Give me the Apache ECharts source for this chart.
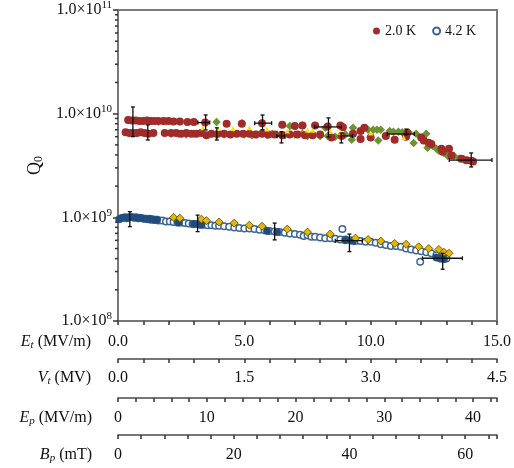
<!DOCTYPE html>
<html>
<head>
<meta charset="utf-8">
<script src="https://cdn.jsdelivr.net/npm/echarts@6/dist/echarts.min.js"></script>
<style>html,body{margin:0;padding:0;background:#fff;}#c{width:514px;height:468px;}</style>
</head>
<body>
<div id="c"></div>
<script>
// ---------- data (Et in MV/m, Q0) ----------
const red20 = [
  [0.40,8.7e9],[0.55,8.6e9],[0.70,8.6e9],[0.85,8.5e9],[1.00,8.5e9],[1.15,8.6e9],[1.30,8.5e9],[1.45,8.5e9],
  [1.60,8.5e9],[1.80,8.5e9],[2.00,8.5e9],[2.20,8.4e9],[2.45,8.4e9],[2.75,8.3e9],[3.00,8.3e9],[3.45,8.2e9],
  [4.30,8.0e9],[4.90,8.0e9],[5.70,8.1e9],[6.50,7.8e9],[7.00,7.6e9],[7.30,7.7e9],[7.80,7.7e9],[8.30,7.5e9],
  [8.80,7.7e9],[8.90,7.4e9],
  [0.30,6.6e9],[0.45,6.5e9],[0.60,6.5e9],[0.75,6.5e9],[0.90,6.6e9],[1.05,6.5e9],[1.20,6.4e9],[1.40,6.5e9],
  [1.85,6.5e9],[2.10,6.5e9],[2.30,6.5e9],[2.50,6.4e9],[2.70,6.5e9],[2.90,6.4e9],[3.10,6.4e9],[3.30,6.5e9],
  [3.50,6.2e9],[3.70,6.4e9],[3.95,6.4e9],[4.20,6.4e9],[4.45,6.3e9],[4.70,6.4e9],[4.95,6.4e9],[5.20,6.4e9],
  [5.45,6.3e9],[5.70,6.4e9],[5.95,6.3e9],[6.20,6.3e9],[6.50,6.2e9],[6.80,6.3e9],[7.10,6.3e9],[7.40,6.2e9],
  [7.70,6.2e9],[8.00,6.3e9],[8.45,5.9e9],[8.85,6.1e9],
  [9.30,6.4e9],[9.60,5.7e9],[9.60,6.8e9],[9.75,7.3e9],[10.00,5.9e9],[10.60,6.1e9],[10.95,5.6e9],[11.40,6.0e9],
  [11.45,6.5e9],[12.00,5.9e9],[12.10,5.5e9],[12.30,5.25e9],[12.40,5.1e9],[12.80,4.6e9],[12.85,4.3e9],
  [13.10,4.6e9],[13.20,3.95e9],[13.60,3.67e9],[13.80,3.55e9],[14.00,3.5e9],[14.05,3.45e9]
];
const green20 = [
  [1.60,8.4e9],[1.90,8.4e9],[2.10,6.4e9],[2.40,6.4e9],[2.70,6.3e9],[3.00,6.4e9],[3.90,8.3e9],[3.90,6.2e9],
  [4.20,6.3e9],[4.90,8.1e9],[5.00,6.3e9],[5.30,6.2e9],[5.50,6.3e9],[5.90,6.2e9],[6.10,6.4e9],[6.30,6.3e9],
  [6.60,6.2e9],[6.80,7.6e9],[7.00,6.3e9],[7.30,6.4e9],[7.30,7.7e9],[7.50,6.1e9],[8.00,6.1e9],[8.20,7.3e9],
  [8.30,6.1e9],[8.60,6.0e9],[9.00,6.3e9],[9.25,5.6e9],[9.30,7.3e9],[9.90,7.0e9],[10.10,7.0e9],[10.25,7.0e9],
  [10.40,7.0e9],[10.30,5.5e9],[10.75,6.8e9],[10.90,6.7e9],[11.10,6.7e9],[11.25,6.6e9],[11.50,6.6e9],
  [11.70,5.2e9],[11.80,6.4e9],[12.05,5.7e9],[12.20,6.4e9],[12.25,4.7e9],[12.45,4.9e9],[12.60,4.6e9],
  [12.70,4.4e9],[12.90,4.2e9],[13.05,3.9e9],[13.30,3.9e9],[13.50,3.7e9],[13.70,3.6e9]
];
const yellow20 = [
  [3.36,7.3e9],[3.95,7.2e9],[4.55,7.2e9],[5.20,7.3e9],[5.90,7.1e9],[6.70,6.8e9],[7.50,6.9e9],[7.70,6.9e9],
  [8.40,6.8e9],[8.80,6.6e9],[10.00,6.5e9],[11.30,5.9e9]
];
const open42 = [
  [1.30,9.5e8],[1.45,9.4e8],[1.60,9.3e8],[1.75,9.3e8],[1.90,9.1e8],[2.05,9.1e8],[2.20,9.0e8],[2.35,8.9e8],
  [2.50,8.9e8],[2.65,8.8e8],[2.80,8.7e8],[2.95,8.6e8],[3.10,8.6e8],[3.25,8.5e8],[3.40,8.5e8],[3.55,8.4e8],
  [3.70,8.4e8],[3.85,8.3e8],[4.00,8.3e8],[4.20,8.2e8],[4.40,8.1e8],[4.60,8.0e8],[4.80,7.9e8],[5.00,7.8e8],
  [5.20,7.8e8],[5.40,7.7e8],[5.60,7.6e8],[5.80,7.5e8],[6.00,7.4e8],[6.20,7.3e8],[6.40,7.2e8],[6.60,7.1e8],
  [6.80,7.0e8],[7.00,6.9e8],[7.20,6.8e8],[7.35,6.6e8],[7.50,6.7e8],[7.65,6.5e8],[7.80,6.5e8],[8.00,6.4e8],
  [8.20,6.3e8],[8.40,6.3e8],[8.60,6.2e8],[8.80,6.1e8],[8.88,7.7e8],[9.00,6.1e8],[9.20,6.0e8],[9.40,5.9e8],
  [9.60,5.9e8],[9.80,5.8e8],[10.00,5.8e8],[10.20,5.7e8],[10.40,5.5e8],[10.60,5.4e8],[10.80,5.3e8],
  [11.00,5.3e8],[11.20,5.2e8],[11.40,5.0e8],[11.60,4.9e8],[11.80,4.8e8],[12.00,4.7e8],[11.96,3.72e8],
  [12.20,4.6e8],[12.40,4.5e8],[12.60,4.3e8],[12.80,4.1e8],[13.00,4.0e8]
];
const filled42 = [
  [0.05,9.6e8],[0.12,9.8e8],[0.20,9.9e8],[0.28,1.0e9],[0.35,9.8e8],[0.42,1.0e9],[0.50,1.01e9],[0.58,1.0e9],
  [0.65,9.9e8],[0.72,1.0e9],[0.80,9.8e8],[0.88,9.9e8],[0.95,9.8e8],[1.02,9.7e8],[1.10,9.7e8],[1.18,9.6e8],
  [1.25,9.7e8],[1.35,9.6e8],[1.45,9.5e8],[1.55,9.5e8],[2.40,8.9e8],[3.00,8.6e8],[3.30,8.5e8],[5.90,7.4e8],
  [6.30,7.2e8],[9.00,6.0e8],[9.30,5.9e8],[12.60,4.1e8],[12.75,4.0e8],[12.90,3.95e8]
];
const gold42 = [
  [2.20,1.0e9],[2.45,9.8e8],[3.30,9.6e8],[3.50,9.3e8],[4.00,9.0e8],[4.60,8.8e8],[5.20,8.4e8],[5.70,8.2e8],
  [6.70,7.7e8],[7.50,7.2e8],[8.40,6.9e8],[9.40,6.3e8],[9.90,6.1e8],[10.40,5.9e8],[10.95,5.6e8],[11.40,5.5e8],
  [11.90,5.2e8],[12.30,5.0e8],[12.70,4.9e8],[12.90,4.6e8],[13.10,4.5e8]
];
// error bars: [Et, Q, EtLow, EtHigh, QLow, QHigh]
const err20 = [
  [0.59,8.6e9,0.59,0.59,6.0e9,1.16e10],
  [1.18,6.5e9,1.18,1.18,5.57e9,7.8e9],
  [3.47,8.2e9,3.16,3.63,6.96e9,9.72e9],
  [3.91,6.4e9,3.91,3.91,5.57e9,7.3e9],
  [5.72,8.1e9,5.41,6.08,7.0e9,9.7e9],
  [6.47,6.1e9,6.28,6.59,5.22e9,6.7e9],
  [8.33,7.45e9,7.78,8.84,5.96e9,9.1e9],
  [8.84,6.1e9,8.84,9.28,5.22e9,6.5e9],
  [11.41,6.37e9,10.66,11.73,6.24e9,7.1e9],
  [13.98,3.57e9,13.11,14.80,3.06e9,4.18e9]
];
const err42 = [
  [0.47,9.6e8,0.47,0.47,8.13e8,1.135e9],
  [3.15,8.8e8,3.15,3.15,7.28e8,1.05e9],
  [6.20,7.2e8,6.20,6.20,6.06e8,8.8e8],
  [9.16,5.96e8,8.60,9.67,4.67e8,6.9e8],
  [12.85,4.03e8,12.05,13.63,3.16e8,4.5e8]
];
const yMinorTicks = [2e8,3e8,4e8,5e8,6e8,7e8,8e8,9e8,2e9,3e9,4e9,5e9,6e9,7e9,8e9,9e9,
  2e10,3e10,4e10,5e10,6e10,7e10,8e10,9e10];
// axis ranges
const etRange = [0, 15], vtRange = [0, 4.5], epRange = [0, 42.7], bpRange = [0, 65.5];
const qRange = [1e8, 1e11];
const etStep = 1, etLabelStep = 5;
const vtStep = 0.3, vtLabelStep = 1.5;
const epStep = 2, epLabelStep = 10;
const bpStep = 4, bpLabelStep = 20;

const FF = 'Liberation Serif';
const AX = '#4a4a4a';
const isMult = (v, s) => Math.abs(v / s - Math.round(v / s)) < 1e-6;

function bottomAxis(range, step, labelStep, offset, digits, margin) {
  return {
    type: 'value', position: 'bottom', offset: offset,
    min: range[0], max: range[1], interval: step,
    axisLine: {show: true, onZero: false, lineStyle: {color: AX, width: 1.5}},
    axisTick: {show: true, length: 4, lineStyle: {color: '#333', width: 1.5}},
    splitLine: {show: false},
    axisLabel: {
      margin: margin, fontFamily: FF, fontSize: 16, color: '#111',
      formatter: v => isMult(v, labelStep) ? (+v).toFixed(digits) : ''
    }
  };
}

function errRender(params, api) {
  const x = api.value(0), y = api.value(1);
  const lo = api.coord([x, api.value(4)]), hi = api.coord([x, api.value(5)]);
  const l = api.coord([api.value(2), y]), r = api.coord([api.value(3), y]);
  const st = {stroke: '#111', lineWidth: 1.3};
  const ch = [
    {type: 'line', shape: {x1: lo[0], y1: lo[1], x2: hi[0], y2: hi[1]}, style: st},
    {type: 'line', shape: {x1: lo[0] - 2, y1: lo[1], x2: lo[0] + 2, y2: lo[1]}, style: st},
    {type: 'line', shape: {x1: hi[0] - 2, y1: hi[1], x2: hi[0] + 2, y2: hi[1]}, style: st}
  ];
  if (r[0] - l[0] > 1) {
    ch.push({type: 'line', shape: {x1: l[0], y1: l[1], x2: r[0], y2: r[1]}, style: st});
    ch.push({type: 'line', shape: {x1: l[0], y1: l[1] - 2, x2: l[0], y2: l[1] + 2}, style: st});
    ch.push({type: 'line', shape: {x1: r[0], y1: r[1] - 2, x2: r[0], y2: r[1] + 2}, style: st});
  }
  return {type: 'group', children: ch};
}

const chart = echarts.init(document.getElementById('c'));
chart.setOption({
  animation: false,
  backgroundColor: '#fff',
  textStyle: {fontFamily: FF},
  grid: {left: 118, right: 16, top: 10, bottom: 147},
  legend: {
    data: ['2.0 K', '4.2 K'], left: 368, top: 19, itemWidth: 7, itemHeight: 7, itemGap: 16,
    textStyle: {fontFamily: FF, fontSize: 14, color: '#111'}
  },
  xAxis: [
    bottomAxis(etRange, etStep, etLabelStep, 0, 1, 13),
    bottomAxis(vtRange, vtStep, vtLabelStep, 38, 1, 11),
    bottomAxis(epRange, epStep, epLabelStep, 77, 0, 12),
    bottomAxis(bpRange, bpStep, bpLabelStep, 114, 0, 12)
  ],
  yAxis: {
    type: 'log', logBase: 10, min: qRange[0], max: qRange[1],
    axisLine: {show: true, lineStyle: {color: AX, width: 1.5}},
    axisTick: {show: true, length: 5, lineStyle: {color: '#333', width: 1.5}},
    splitLine: {show: false},
    axisLabel: {
      margin: 6, fontFamily: FF, fontSize: 16, color: '#111',
      formatter: v => '1.0×10{sup|' + Math.round(Math.log10(v)) + '}',
      rich: {sup: {fontFamily: FF, fontSize: 11, color: '#111', padding: [0, 0, 9, 0]}}
    },
    name: 'Q{sub|0}', nameLocation: 'middle', nameGap: 63, nameRotate: 90,
    nameTextStyle: {fontFamily: FF, fontSize: 18, color: '#111',
      rich: {sub: {fontFamily: FF, fontSize: 12, color: '#111', padding: [8, 0, 0, 0]}}}
  },
  graphic: [
    {type: 'text', x: 91, y: 342, style: {text: '{i|E}{s|t} (MV/m)', align: 'right', verticalAlign: 'middle',
      fontFamily: FF, fontSize: 16, fill: '#111',
      rich: {i: {fontStyle: 'italic', fontFamily: FF, fontSize: 16}, s: {fontStyle: 'italic', fontFamily: FF, fontSize: 11, padding: [7, 0, 0, 0]}}}},
    {type: 'text', x: 91, y: 378, style: {text: '{i|V}{s|t} (MV)', align: 'right', verticalAlign: 'middle',
      fontFamily: FF, fontSize: 16, fill: '#111',
      rich: {i: {fontStyle: 'italic', fontFamily: FF, fontSize: 16}, s: {fontStyle: 'italic', fontFamily: FF, fontSize: 11, padding: [7, 0, 0, 0]}}}},
    {type: 'text', x: 92, y: 418, style: {text: '{i|E}{s|p} (MV/m)', align: 'right', verticalAlign: 'middle',
      fontFamily: FF, fontSize: 16, fill: '#111',
      rich: {i: {fontStyle: 'italic', fontFamily: FF, fontSize: 16}, s: {fontStyle: 'italic', fontFamily: FF, fontSize: 11, padding: [7, 0, 0, 0]}}}},
    {type: 'text', x: 92, y: 455, style: {text: '{i|B}{s|p} (mT)', align: 'right', verticalAlign: 'middle',
      fontFamily: FF, fontSize: 16, fill: '#111',
      rich: {i: {fontStyle: 'italic', fontFamily: FF, fontSize: 16}, s: {fontStyle: 'italic', fontFamily: FF, fontSize: 11, padding: [7, 0, 0, 0]}}}}
  ],
  series: [
    {name: 'frame', type: 'custom', clip: false, z: 1,
     data: [[etRange[1], qRange[1]]],
     renderItem: (p, api) => {
       const tl = api.coord([etRange[0], qRange[1]]);
       const tr = api.coord([etRange[1], qRange[1]]);
       const br = api.coord([etRange[1], qRange[0]]);
       return {type: 'polyline', shape: {points: [tl, tr, br]},
               style: {stroke: '#7a7a7a', lineWidth: 2, fill: null}};
     }},
    {name: 'minor', type: 'custom', clip: false, z: 10,
     data: yMinorTicks.map(v => [0, v]),
     renderItem: (p, api) => {
       const c = api.coord([0, api.value(1)]);
       return {type: 'line', shape: {x1: c[0] - 3, y1: c[1], x2: c[0], y2: c[1]}, style: {stroke: '#333', lineWidth: 1.5}};
     }},
    {name: '4.2 K', type: 'scatter', data: open42, symbol: 'circle', symbolSize: 6.5, z: 2,
     itemStyle: {color: '#ffffff', borderColor: '#3d6594', borderWidth: 1.5, opacity: 1}},
    {name: 'filled42', type: 'scatter', data: filled42, symbol: 'circle', symbolSize: 7.5, z: 3,
     itemStyle: {color: '#1f4a7a', borderColor: '#2b5a8c', borderWidth: 0.5, opacity: 1}},
    {name: 'gold42', type: 'scatter', data: gold42, symbol: 'diamond', symbolSize: 8, z: 4,
     itemStyle: {color: '#e8b800', borderColor: '#4d4200', borderWidth: 0.8, opacity: 1}},
    {name: 'green20', type: 'scatter', data: green20, symbol: 'diamond', symbolSize: 8.5, z: 2,
     itemStyle: {color: '#6b9333', opacity: 1}},
    {name: '2.0 K', type: 'scatter', data: red20, symbol: 'circle', symbolSize: 8, z: 3,
     itemStyle: {color: '#a02b29', opacity: 1}},
    {name: 'yellow20', type: 'scatter', data: yellow20, symbol: 'triangle', symbolSize: 5, z: 4,
     itemStyle: {color: '#ffe000', opacity: 1}},
    {name: 'err20', type: 'custom', data: err20, renderItem: errRender, z: 6,
     encode: {x: [0, 2, 3], y: [1, 4, 5]}},
    {name: 'err42', type: 'custom', data: err42, renderItem: errRender, z: 6,
     encode: {x: [0, 2, 3], y: [1, 4, 5]}}
  ]
});
</script>
</body>
</html>
